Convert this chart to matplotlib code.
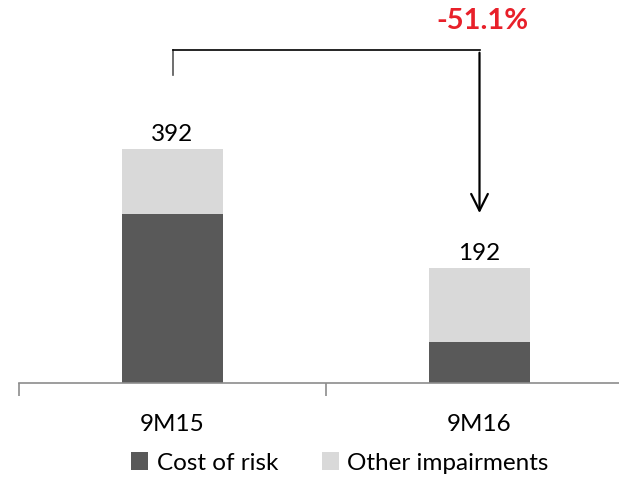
import matplotlib.pyplot as plt
import numpy as np

plt.rcParams['font.family'] = ['Lato', 'DejaVu Sans']

# Dados
periodos = ['9M15', '9M16']
custo_risco = [283, 69]
outras_imparidades = [109, 123]
totais = [392, 192]
variacao = '-51.1%'

cor_escura = '#595959'
cor_clara = '#D9D9D9'

fig = plt.figure(figsize=(6.19, 4.78), dpi=100)
ax = fig.add_axes([19 / 619, 95 / 478, 614 / 619, 382 / 478])

x = np.arange(len(periodos))
largura = 0.33
ax.bar(x, custo_risco, largura, color=cor_escura, label='Cost of risk')
ax.bar(x, outras_imparidades, largura, bottom=custo_risco, color=cor_clara,
       label='Other impairments')

# rótulos com o total de cada barra
for xi, t in zip(x, totais):
    ax.text(xi, t + 7, str(t), ha='center', va='bottom', fontsize=17.5)

ax.set_xlim(-0.5, 1.5)
ax.set_ylim(0, 640)

# seta de variação entre os períodos
topo = 558
ax.plot([x[0], x[0]], [topo - 42, topo], color='#555555', lw=1.2)
ax.plot([x[0], x[1]], [topo, topo], color='black', lw=1.2)
ax.annotate('', xy=(x[1], totais[1] + 88), xytext=(x[1], topo),
            arrowprops=dict(arrowstyle='->', color='black', lw=1.6,
                            mutation_scale=30))
ax.text(x[1] + 0.01, 606, variacao, color='#E8202A', fontsize=21,
        fontweight='bold', ha='center', va='center')

for s in ['top', 'right', 'left']:
    ax.spines[s].set_visible(False)
ax.spines['bottom'].set_color('#8C8C8C')
ax.spines['bottom'].set_linewidth(1.2)
ax.set_yticks([])
ax.set_xticks(x)
ax.set_xticklabels(periodos, fontsize=17.5)
ax.tick_params(axis='x', which='major', length=0, pad=22)
ax.set_xticks([-0.5, 0.5, 1.5], minor=True)
ax.tick_params(axis='x', which='minor', length=9, width=1.2, color='#8C8C8C',
               direction='out')

fig.legend(loc='center', bbox_to_anchor=(340 / 619, 15 / 478), ncol=2,
           frameon=False, fontsize=17.5, handlelength=0.7, handleheight=0.7,
           handletextpad=0.35, columnspacing=1.8)

fig.savefig('out.png', dpi=100)
